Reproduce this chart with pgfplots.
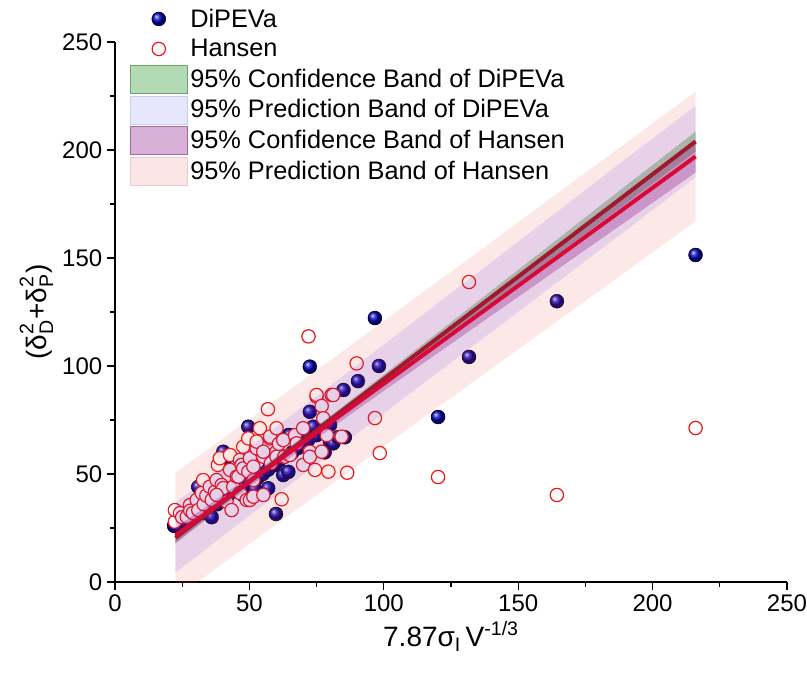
\documentclass[border=0pt]{standalone}
\usepackage{fontspec}
\setmainfont{Liberation Sans}
\usepackage{amsmath}
\usepackage{pgfplots}
\pgfplotsset{compat=1.18}
\definecolor{dblue}{RGB}{0,0,190}
\definecolor{hred}{RGB}{240,20,20}
\definecolor{fitD}{RGB}{160,25,45}
\definecolor{fitH}{RGB}{215,10,55}
\definecolor{cDd}{RGB}{110,160,110}\definecolor{cDf}{RGB}{179,219,179}
\definecolor{pDd}{RGB}{205,205,235}\definecolor{pDf}{RGB}{230,230,252}
\definecolor{cHd}{RGB}{160,105,160}\definecolor{cHf}{RGB}{216,176,216}
\definecolor{pHd}{RGB}{228,205,205}\definecolor{pHf}{RGB}{251,229,229}
\definecolor{bandG}{RGB}{0,128,0}
\definecolor{bandB}{RGB}{0,0,255}
\definecolor{bandP}{RGB}{128,0,128}
\definecolor{bandR}{RGB}{240,80,80}
\pgfplotsset{
  markleg/.style={legend image code/.code={\path[draw=none,fill=none] (0pt,-10.5pt) rectangle (42.8pt,10.5pt);\draw[mark repeat=2,mark phase=2,##1] plot coordinates {(0pt,0pt) (21.4pt,0pt) (42.8pt,0pt)};}},
  boxleg/.style 2 args={legend image code/.code={\draw[draw=#1, fill=#2] (0pt,-10.5pt) rectangle (42.8pt,10.5pt);}},
  samebox/.style={width=504pt, height=405pt, scale only axis, xmin=0, xmax=250, ymin=0, ymax=250},
}
\begin{document}
\begin{tikzpicture}
\begin{axis}[
  samebox,
  axis x line*=bottom, axis y line*=left,
  xtick={0,50,...,250}, ytick={0,50,...,250}, minor tick num=1,
  tick align=outside,
  major tick length=6pt, minor tick length=3.5pt,
  every tick/.style={black, line width=0.9pt},
  axis line style={line width=1.1pt},
  tick label style={font=\fontsize{18}{20}\selectfont},
  /pgf/number format/assume math mode=true,
  label style={font=\fontsize{21}{24}\selectfont},
  xlabel={$\text{7.87σ}_{\text{I}}\,\text{V}^{\text{-1/3}}$},
  ylabel={$\text{(δ}^{\text{2}}_{\text{D}}\text{+δ}^{\text{2}}_{\text{P}}\text{)}$},
  legend style={at={(rel axis cs:0.016,1.074)}, anchor=north west, draw=none, fill=none,
    font=\fontsize{19}{22}\selectfont, row sep=1.5pt},
  legend cell align=left,
]
% DiPEVa
\addplot[only marks, mark=ball, mark size=5.2pt, mark options={ball color=dblue}, markleg]
coordinates {
(22,26) (24,27) (26,28) (28,30) (30,31) (31,44) (33,32) (35,34) (36,30) (38,36)
(40,38) (41,57) (40.3,60.3) (42,40) (44,42) (46,45) (47.6,40.3) (48,44) (50,46) (52,43)
(49.6,71.9) (53,48) (55,50) (57,43.4) (57,52) (59,54) (59.9,31.5) (61,56) (62.6,49.5) (63,58)
(64.5,68) (64.5,51) (65,68) (66,60) (68,62) (70,64) (72,66) (72.5,78.8) (72.5,99.7) (73.8,71.9)
(75,68) (77,70) (78,60) (80,72.7) (80,65) (81.2,64.2) (83,67) (85,88.9) (85.5,67) (90.4,93)
(96.7,122.2) (98.2,100) (120.2,76.4) (131.7,104.2) (164.4,130) (216,151.4)
};
\addlegendentry{DiPEVa}
% Hansen
\addplot[only marks, mark=*, mark size=5pt, mark options={draw=hred, fill=white, line width=0.9pt}, markleg]
coordinates {
(22.3,27.9) (22.3,33.3) (24.2,31.9) (25,30) (26.7,30.2) (27.9,35.6) (28,33) (29,32) (30.4,38) (31,33.3)
(32.3,41.2) (33,36) (32.8,47.2) (34,40) (35.3,44.1) (36,38) (37.2,41.8) (37.8,47.2) (38.3,54.2) (39,57.3)
(39.7,44.9) (40.3,43.5) (41.5,37.2) (37.8,40.3) (42.8,51.9) (42.8,58.8) (43.4,33.3) (44,44.1) (45.3,48.8) (45.9,48.8)
(46.5,41.2) (46.5,56.5) (47.1,54.2) (47.7,52.6) (47.7,62.6) (49,38) (49.6,51.1) (49.6,66.5) (50.2,57.3) (50.2,38)
(51.5,47.2) (51.5,53.4) (51.5,39.5) (52.7,61.9) (52.7,65) (53.9,71.2) (55.2,58) (55.2,60.3) (55.2,40.3) (56.9,80)
(57.7,66.5) (57.7,67.3) (58,55) (60.1,71.2) (60.1,60.3) (60.1,58) (61,64) (62,38.3) (62.6,65.7) (63,58)
(65.1,58.8) (67,68) (67.6,64.2) (70,71.2) (70,54.2) (72.5,60.3) (72,113.7) (72.5,58) (74.4,51.9) (75,85.8)
(75,86.6) (76.9,81.5) (76.9,60.3) (77.5,75.8) (78.8,68) (79.4,51.1) (80.6,86.6) (81.2,86.6) (84.3,67.3) (86.4,50.6)
(89.9,101.2) (96.7,75.9) (98.5,59.7) (120.2,48.6) (131.7,138.9) (164.4,40.3) (216,71.3)
};
\addlegendentry{Hansen}
\addlegendimage{boxleg={cDd}{cDf}}
\addlegendentry{95\% Confidence Band of DiPEVa}
\addlegendimage{boxleg={pDd}{pDf}}
\addlegendentry{95\% Prediction Band of DiPEVa}
\addlegendimage{boxleg={cHd}{cHf}}
\addlegendentry{95\% Confidence Band of Hansen}
\addlegendimage{boxleg={pHd}{pHf}}
\addlegendentry{95\% Prediction Band of Hansen}
\coordinate (bl) at (rel axis cs:-0.1711,-0.1704);
\coordinate (tr) at (rel axis cs:1.0298,1.0778);
\end{axis}
\begin{axis}[samebox, hide axis]
% Confidence band DiPEVa
\addplot[draw=none, fill=bandG, fill opacity=0.3]
coordinates {
(22.5,22.8) (40,38.8) (55,52.8) (70,67.1) (100,96.0) (130,125.1) (160,154.2) (190,183.4) (216,208.5)
(216,199.3) (190,175.2) (160,147.4) (130,119.7) (100,92.0) (70,63.9) (55,49.8) (40,35.4) (22.5,18.2)
} -- cycle;
% Prediction band DiPEVa
\addplot[draw=none, fill=bandB, fill opacity=0.1]
coordinates {
(22.5,36.7) (40,53.0) (55,67.1) (70,81.3) (100,109.9) (130,138.5) (160,167.1) (190,195.9) (216,220.4)
(216,187.4) (190,162.7) (160,134.5) (130,106.3) (100,78.1) (70,49.7) (55,35.5) (40,21.2) (22.5,4.3)
} -- cycle;
% Confidence band Hansen
\addplot[draw=none, fill=bandP, fill opacity=0.3]
coordinates {
(22.5,25.1) (40,40.1) (55,53.4) (70,67.2) (100,95.1) (130,123.4) (160,151.7) (190,180.0) (216,204.4)
(216,189.6) (190,166.8) (160,140.7) (130,114.6) (100,88.5) (70,62.0) (55,48.6) (40,34.7) (22.5,17.9)
} -- cycle;
% Prediction band Hansen
\addplot[draw=none, fill=bandR, fill opacity=0.13]
coordinates {
(22.5,50.7) (40,66.3) (55,79.8) (70,93.4) (100,120.8) (130,148.2) (160,175.7) (190,203.2) (216,227.0)
(216,167.0) (190,143.6) (160,116.7) (130,89.8) (100,62.8) (70,35.8) (55,22.2) (40,8.5) (22.5,-7.7)
} -- cycle;
% Fit lines
\addplot[fitD, line width=3pt] coordinates {(22.5,20.49) (216,203.93)};
\addplot[fitH, line width=3pt] coordinates {(22.5,21.51) (216,197.01)};
\end{axis}
\pgfresetboundingbox
\path[use as bounding box] (bl) rectangle (tr);
\end{tikzpicture}
\end{document}
